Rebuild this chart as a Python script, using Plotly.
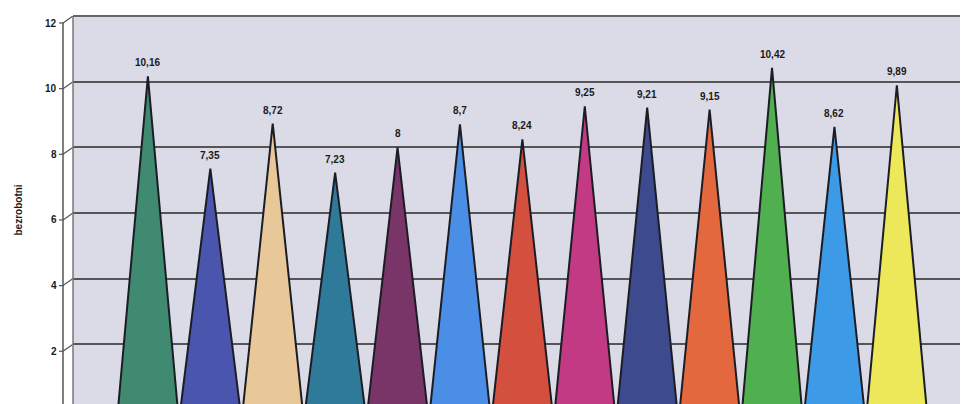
import plotly.graph_objects as go

labels = ["10,16", "7,35", "8,72", "7,23", "8", "8,7", "8,24", "9,25", "9,21", "9,15", "10,42", "8,62", "9,89"]
values = [10.16, 7.35, 8.72, 7.23, 8.0, 8.7, 8.24, 9.25, 9.21, 9.15, 10.42, 8.62, 9.89]
colors = ["#3f8a70", "#4a56ad", "#e8c898", "#2f7a98", "#7a3568", "#4a8ee6", "#d4503e",
          "#c23a84", "#3e4a8e", "#e4683e", "#50b050", "#3c9ae6", "#ece85a"]
y_ticks = [2, 4, 6, 8, 10, 12]
y_title = "bezrobotni"

HALF_W = 0.48
FONT = dict(family="Liberation Sans, Arial", size=10, color="#1a1a1a")

fig = go.Figure()
for i, (v, c) in enumerate(zip(values, colors)):
    fig.add_trace(go.Scatter(
        x=[i - HALF_W, i, i + HALF_W, i - HALF_W],
        y=[0, v, 0, 0],
        mode="lines",
        fill="toself",
        fillcolor=c,
        line=dict(color="#1c1c24", width=2),
        hoverinfo="skip",
        showlegend=False,
    ))
    fig.add_annotation(x=i, y=v, text="<b>" + labels[i] + "</b>", showarrow=False,
                       yanchor="bottom", yshift=6, font=FONT)

shapes = []
for t in y_ticks:
    fig.add_annotation(xref="paper", x=0, y=t, xanchor="right", xshift=-14, yshift=-7,
                       text="<b>" + str(t) + "</b>", showarrow=False, font=FONT)
    shapes.append(dict(type="line", xref="paper", yref="y",
                       xsizemode="pixel", ysizemode="pixel", xanchor=0, yanchor=t,
                       x0=-10, y0=-7, x1=0, y1=0,
                       line=dict(color="#555", width=1.2)))
    shapes.append(dict(type="line", xref="paper", yref="y",
                       xsizemode="pixel", ysizemode="pixel", xanchor=0, yanchor=t,
                       x0=-14, y0=-7, x1=-10, y1=-7,
                       line=dict(color="#555", width=1.2)))
shapes.append(dict(type="line", xref="paper", yref="paper",
                   xsizemode="pixel", xanchor=0, x0=-10, x1=-10, y0=0, y1=0.983,
                   line=dict(color="#555", width=1.5)))
shapes.append(dict(type="line", xref="paper", yref="paper", x0=0, x1=0, y0=0, y1=1,
                   line=dict(color="#777", width=1.5)))
shapes.append(dict(type="line", xref="paper", yref="paper", x0=0, x1=1, y0=1, y1=1,
                   line=dict(color="#666", width=2)))

fig.update_layout(
    width=960, height=396,
    margin=dict(l=65, r=0, t=8, b=0),
    paper_bgcolor="white",
    plot_bgcolor="#dbdbe7",
    shapes=shapes,
    xaxis=dict(range=[-1.2, 13.14], showgrid=False, zeroline=False,
               showticklabels=False, ticks="", showline=False, fixedrange=True),
    yaxis=dict(range=[0.18, 12], tickvals=y_ticks, showticklabels=False,
               showgrid=True, gridcolor="#555", gridwidth=1.5, zeroline=False,
               showline=False, ticks=""),
)
fig.add_annotation(xref="paper", yref="paper", x=-0.062, y=0.5, text="<b>" + y_title + "</b>",
                   textangle=-90, showarrow=False, xanchor="center", font=FONT)

fig.write_html("out.html")
